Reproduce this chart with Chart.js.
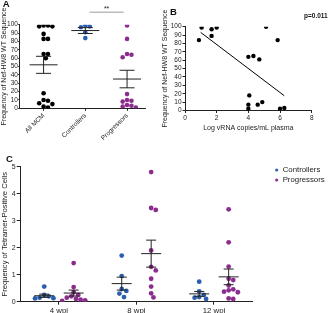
<!DOCTYPE html>
<html>
<head>
<meta charset="utf-8">
<script src="https://cdn.jsdelivr.net/npm/chart.js@4.4.1/dist/chart.umd.min.js"></script>
<style>
  body { margin: 0; background: #fff; width: 333px; height: 313px; position: relative; overflow: hidden;
         font-family: "Liberation Sans", Arial, sans-serif; color: #111; }
  canvas { position: absolute; }
  .letter { position: absolute; font-weight: bold; font-size: 9.5px; line-height: 10px; }
  .pval { position: absolute; font-weight: bold; font-size: 6.5px; line-height: 7px; }
</style>
</head>
<body>
<canvas id="chartA" width="160" height="150" style="left:0;top:0"></canvas>
<canvas id="chartB" width="173" height="150" style="left:160px;top:0"></canvas>
<canvas id="chartC" width="333" height="163" style="left:0;top:150px"></canvas>
<div class="letter" style="left:2.7px;top:-1px">A</div>
<div class="letter" style="left:170px;top:6.7px">B</div>
<div class="letter" style="left:6px;top:153.7px">C</div>
<div class="pval" style="left:304px;top:12.3px">p=0.011</div>

<script>
// ---- Painel A: frequência da sequência WT por grupo
const groupsA = ['All MCM', 'Controllers', 'Progressors'];
const allMcm = [99, 99, 98, 98, 89, 83, 83, 65, 65, 60, 18, 10, 9, 6, 5, 2, 1];
const controllersA = [99, 98, 97, 91, 84];
const progressorsA = [99, 83, 65, 64, 61, 17, 10, 9, 8, 4, 3, 2, 1];
const meanA = [52, 93, 35];
const semA = [10.2, 3.5, 10.5];

// ---- Painel B: carga viral x frequência WT
const vrnaLog = [0.88, 1.05, 1.68, 1.68, 2.0, 4.0, 4.32, 4.69, 5.12, 5.85, 4.06, 4.0, 4.0, 4.59, 4.88, 6.0, 6.27];
const wtFreq = [84, 99, 97, 89, 99, 64, 65, 61, 100, 84, 18, 7, 2, 7, 10, 2, 3];
const fitX = [0.99, 6.27];
const fitY = [93.2, 17.6];

// ---- Painel C: células tetrâmero-positivas por semana
const timepoints = ['4 wpi', '8 wpi', '12 wpi'];
const controllersC = [
  [0.56, 0.25, 0.2, 0.15, 0.13, 0.12],
  [1.71, 0.95, 0.47, 0.4, 0.3, 0.17],
  [0.74, 0.38, 0.25, 0.17, 0.15, 0.1]
];
const progressorsC = [
  [1.43, 0.54, 0.35, 0.25, 0.2, 0.15, 0.1, 0.08, 0.05, 0.03],
  [4.8, 3.47, 3.4, 1.9, 1.29, 1.16, 0.85, 0.56, 0.31, 0.16],
  [3.42, 2.2, 1.3, 0.85, 0.8, 0.6, 0.46, 0.42, 0.37, 0.35, 0.12, 0.1]
];
const meanCtrl = [0.22, 0.67, 0.29];
const semCtrl = [0.06, 0.24, 0.09];
const meanProg = [0.32, 1.78, 0.92];
const semProg = [0.11, 0.5, 0.29];

const BLUE = '#2b5fad';
const PURPLE = '#8b2c8e';
const INK = '#222';

Chart.defaults.font.family = '"Liberation Sans", Arial, sans-serif';
Chart.defaults.font.size = 6.5;
Chart.defaults.color = INK;
Chart.defaults.animation = false;

// linhas de média e erro padrão
const meanSemPlugin = {
  id: 'meanSem',
  afterDatasetsDraw(chart, args, opts) {
    const {ctx, scales: {x, y}} = chart;
    ctx.save();
    ctx.strokeStyle = opts.color;
    ctx.lineWidth = 1;
    opts.groups.forEach(g => {
      const cx = x.getPixelForValue(g.x);
      const ym = y.getPixelForValue(g.mean);
      const yt = y.getPixelForValue(g.mean + g.sem);
      const yb = y.getPixelForValue(g.mean - g.sem);
      ctx.beginPath();
      ctx.moveTo(cx - opts.meanHalf, ym); ctx.lineTo(cx + opts.meanHalf, ym);
      ctx.moveTo(cx, yt); ctx.lineTo(cx, yb);
      ctx.moveTo(cx - opts.capHalf, yt); ctx.lineTo(cx + opts.capHalf, yt);
      ctx.moveTo(cx - opts.capHalf, yb); ctx.lineTo(cx + opts.capHalf, yb);
      ctx.stroke();
    });
    ctx.restore();
  }
};

// barra de significância
const sigBarPlugin = {
  id: 'sigBar',
  afterDraw(chart, args, opts) {
    const {ctx, scales: {x, y}} = chart;
    const x1 = x.getPixelForValue(opts.from);
    const x2 = x.getPixelForValue(opts.to);
    const yy = y.getPixelForValue(opts.y);
    ctx.save();
    ctx.strokeStyle = '#9a9a9a';
    ctx.lineWidth = 1;
    ctx.beginPath();
    ctx.moveTo(x1, yy); ctx.lineTo(x2, yy);
    ctx.stroke();
    ctx.fillStyle = INK;
    ctx.font = '7px "Liberation Sans", Arial, sans-serif';
    ctx.textAlign = 'center';
    ctx.fillText(opts.label, (x1 + x2) / 2, yy - 1.6);
    ctx.restore();
  }
};

// legenda do painel C fica mais à direita, como no original
const legendNudge = {
  id: 'legendNudge',
  afterLayout(chart) {
    const lg = chart.legend;
    lg.left = chart.chartArea.right + 19.7;
    lg.right = lg.left + lg.width + 20;
    lg.top = chart.chartArea.top - 2.8;
    lg.bottom = lg.top + lg.height;
  }
};

// espalha pontos sobrepostos (estilo beeswarm)
function spreadPoints(chart, minDist) {
  const xs = chart.scales.x, ys = chart.scales.y;
  const placed = {};
  chart.data.datasets.forEach(ds => {
    if (!ds.swarm) return;
    ds.data.forEach(p => {
      const cx = xs.getPixelForValue(p.x), cy = ys.getPixelForValue(p.y);
      const taken = placed[p.x] || (placed[p.x] = []);
      let k = 0, dx = 0;
      while (taken.some(q => Math.hypot(q.x - cx - dx, q.y - cy) < minDist)) {
        k++;
        dx = (k % 2 ? 1 : -1) * Math.ceil(k / 2) * minDist / 2;
      }
      taken.push({x: cx + dx, y: cy});
      p.x = xs.getValueForPixel(cx + dx);
    });
  });
  chart.update('none');
}

function axis(extra) {
  return Object.assign({
    grid: {display: true, drawOnChartArea: false, drawTicks: true, tickLength: 2.5, color: INK},
    border: {display: true, color: INK, width: 1}
  }, extra);
}

function axisTitle(text, size, pad) {
  return {display: true, text: text, font: {size: size}, padding: pad};
}

// ---------- A
const chartA = new Chart(document.getElementById('chartA'), {
  type: 'scatter',
  data: {
    datasets: [allMcm, controllersA, progressorsA].map((vals, i) => ({
      data: vals.map(v => ({x: i, y: v})),
      backgroundColor: ['#000', BLUE, PURPLE][i],
      pointRadius: 2.3,
      borderWidth: 0,
      swarm: true
    }))
  },
  options: {
    responsive: false,
    events: [],
    layout: {padding: {top: 24.7, right: 15, left: 0, bottom: 0}},
    plugins: {
      legend: {display: false},
      tooltip: {enabled: false},
      meanSem: {
        color: INK, meanHalf: 14, capHalf: 7.5,
        groups: meanA.map((m, i) => ({x: i, mean: m, sem: semA[i]}))
      },
      sigBar: {from: 1.1, to: 1.92, y: 115, label: '**'}
    },
    scales: {
      x: axis({
        type: 'linear', min: -0.57, max: 2.43,
        afterBuildTicks: s => { s.ticks = groupsA.map((g, i) => ({value: i})); },
        afterFit: s => { s.height = 41.7; },
        ticks: {padding: 1, color: INK, autoSkip: false, minRotation: 45, maxRotation: 45,
                callback: v => groupsA[v]}
      }),
      y: axis({
        min: 0, max: 100,
        afterFit: s => { s.width = 19.8; },
        grid: {display: true, drawOnChartArea: false, drawTicks: true, tickLength: 1.6, color: INK},
        ticks: {stepSize: 10, padding: 0.3, color: INK, autoSkip: false},
        title: axisTitle('Frequency of Nef-HW8 WT Sequence', 7, {top: 0, bottom: 0})
      })
    }
  },
  plugins: [meanSemPlugin, sigBarPlugin]
});
spreadPoints(chartA, 4.4);

// ---------- B
new Chart(document.getElementById('chartB'), {
  type: 'scatter',
  data: {
    datasets: [{
      data: vrnaLog.map((v, i) => ({x: v, y: wtFreq[i]})),
      backgroundColor: '#000',
      pointRadius: 2.2,
      borderWidth: 0
    }, {
      data: fitX.map((v, i) => ({x: v, y: fitY[i]})),
      showLine: true,
      borderColor: '#000',
      borderWidth: 1,
      pointRadius: 0
    }]
  },
  options: {
    responsive: false,
    events: [],
    layout: {padding: {top: 26.7, right: 21.3, left: 0, bottom: 0}},
    plugins: {legend: {display: false}, tooltip: {enabled: false}},
    scales: {
      x: axis({
        min: 0, max: 8,
        afterFit: s => { s.height = 39.5; },
        ticks: {stepSize: 2, padding: 1, color: INK},
        title: axisTitle('Log vRNA copies/mL plasma', 7, {top: 0, bottom: 17.5})
      }),
      y: axis({
        min: 0, max: 100,
        afterFit: s => { s.width = 25; },
        ticks: {stepSize: 10, padding: 1, color: INK, autoSkip: false},
        title: axisTitle('Frequency of Nef-HW8 WT Sequence', 7, {top: 1, bottom: 0})
      })
    }
  }
});

// ---------- C
const chartC = new Chart(document.getElementById('chartC'), {
  type: 'scatter',
  data: {
    datasets: [
      {
        label: 'Controllers',
        data: controllersC.flatMap((vals, i) => vals.map(v => ({x: i + 1 - 0.19, y: v}))),
        backgroundColor: BLUE,
        pointRadius: 2.4,
        borderWidth: 0,
        swarm: true
      },
      {
        label: 'Progressors',
        data: progressorsC.flatMap((vals, i) => vals.map(v => ({x: i + 1 + 0.19, y: v}))),
        backgroundColor: PURPLE,
        pointRadius: 2.4,
        borderWidth: 0,
        swarm: true
      }
    ]
  },
  options: {
    responsive: false,
    events: [],
    layout: {padding: {top: 16.7, right: 18, left: 0, bottom: 0}},
    plugins: {
      legend: {
        display: true,
        position: 'right',
        align: 'start',
        labels: {usePointStyle: true, pointStyle: 'circle', boxWidth: 4.2, boxHeight: 2.2,
                 padding: 2.2, color: INK, font: {size: 7.8}}
      },
      tooltip: {enabled: false},
      meanSem: {
        color: INK, meanHalf: 10, capHalf: 5,
        groups: meanCtrl.map((m, i) => ({x: i + 1 - 0.19, mean: m, sem: semCtrl[i]}))
          .concat(meanProg.map((m, i) => ({x: i + 1 + 0.19, mean: m, sem: semProg[i]})))
      }
    },
    scales: {
      x: axis({
        type: 'linear', min: 0.5, max: 3.5,
        afterBuildTicks: s => { s.ticks = timepoints.map((t, i) => ({value: i + 1})); },
        afterFit: s => { s.height = 11.3; },
        grid: {display: true, drawOnChartArea: false, drawTicks: true, tickLength: 3, color: INK},
        ticks: {padding: 1.5, color: INK, autoSkip: false, maxRotation: 0, font: {size: 7.8},
                callback: v => timepoints[v - 1]}
      }),
      y: axis({
        min: 0, max: 5,
        afterFit: s => { s.width = 20.2; },
        grid: {display: true, drawOnChartArea: false, drawTicks: true, tickLength: 3.5, color: INK},
        ticks: {stepSize: 1, padding: 1, color: INK, font: {size: 7}},
        title: axisTitle('Frequency of Tetramer-Positive Cells', 7.6, {top: 0, bottom: 0})
      })
    }
  },
  plugins: [meanSemPlugin, legendNudge]
});
spreadPoints(chartC, 4.6);
</script>
</body>
</html>
